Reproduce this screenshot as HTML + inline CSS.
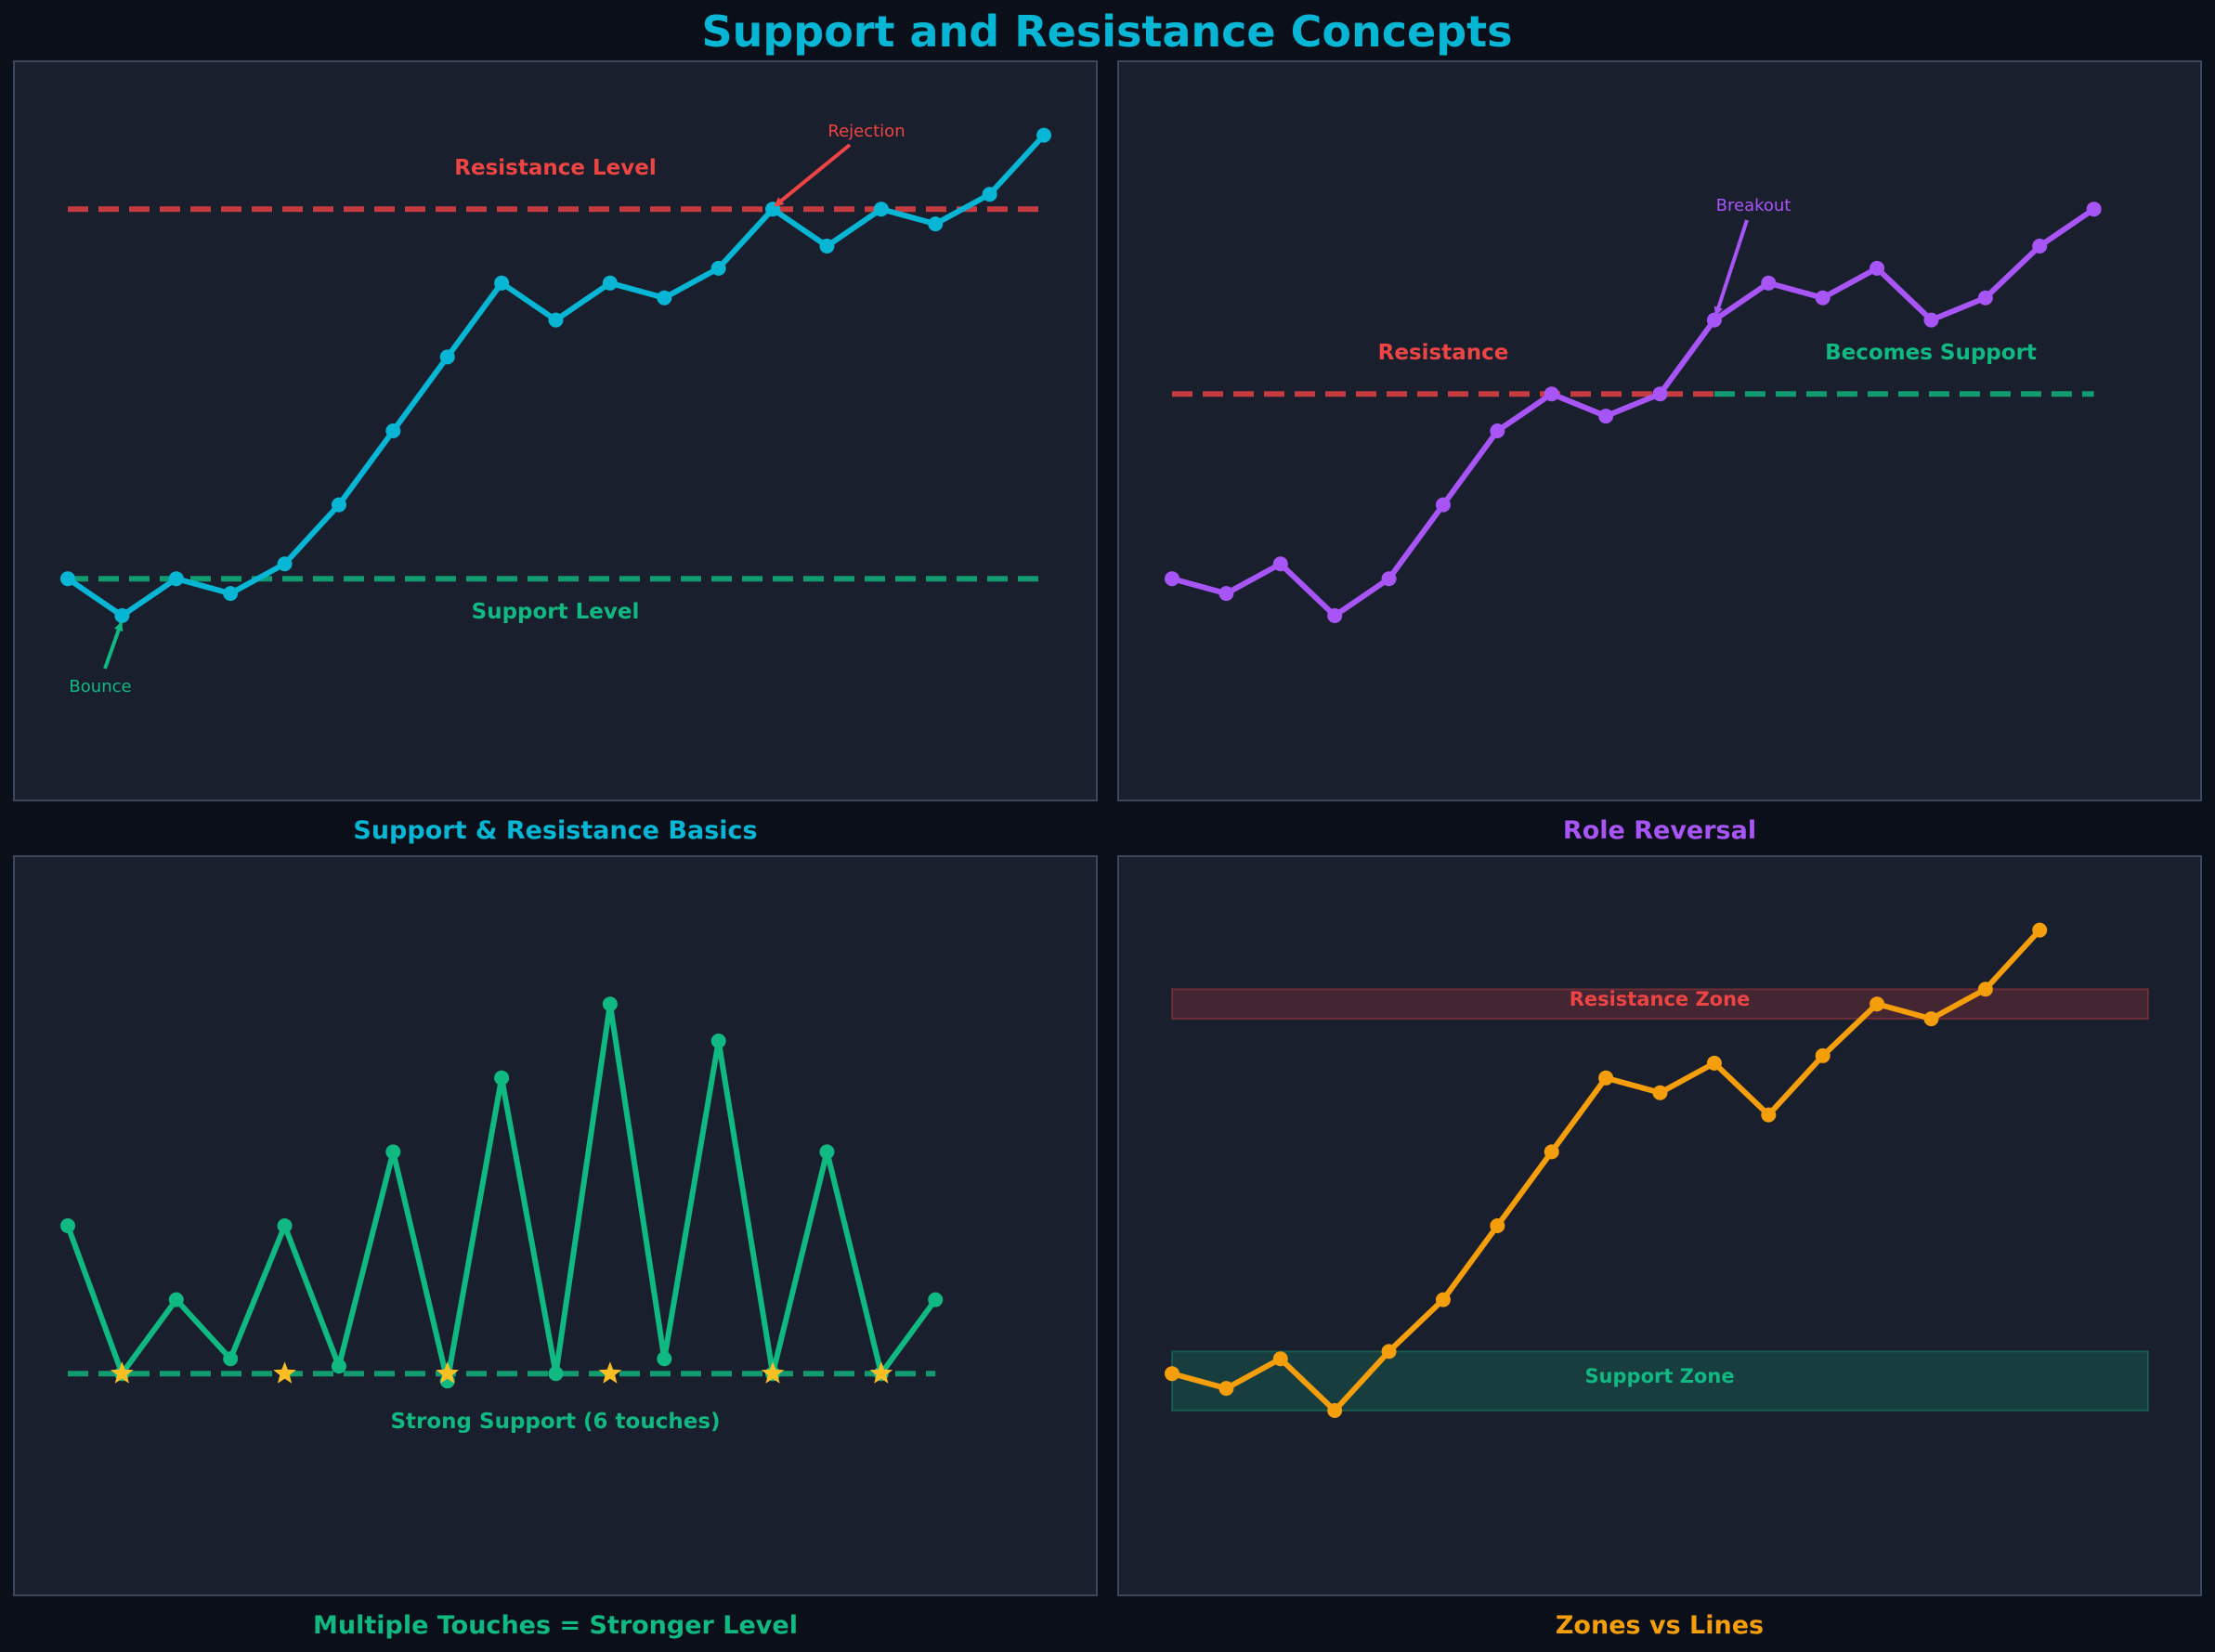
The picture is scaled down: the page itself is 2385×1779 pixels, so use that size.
<!DOCTYPE html>
<html><head><meta charset="utf-8"><style>
html,body{margin:0;padding:0;background:#0b0f19;}
svg{display:block;font-family:"DejaVu Sans","Liberation Sans",sans-serif;}
</style></head><body>
<svg id="chart" width="2385" height="1779" viewBox="0 0 2385 1779" xmlns="http://www.w3.org/2000/svg">
<defs>
<marker id="arR" markerWidth="10" markerHeight="10" refX="8" refY="5" orient="auto" markerUnits="userSpaceOnUse"><path d="M0,0 L10,5 L0,10 z" fill="#ef4444"/></marker>
<marker id="arG" markerWidth="10" markerHeight="10" refX="8" refY="5" orient="auto" markerUnits="userSpaceOnUse"><path d="M0,0 L10,5 L0,10 z" fill="#10b981"/></marker>
<marker id="arP" markerWidth="10" markerHeight="10" refX="8" refY="5" orient="auto" markerUnits="userSpaceOnUse"><path d="M0,0 L10,5 L0,10 z" fill="#a855f7"/></marker>
</defs>
<rect x="0" y="0" width="2385" height="1779" fill="#0b0f19"/>
<text x="1192" y="50" text-anchor="middle" font-size="46" font-weight="bold" fill="#06b6d4">Support and Resistance Concepts</text>
<g id="g"></g>
</svg>
<script>
// Panel 1 data
const p1Values = [100,99,100,99.6,100.4,102,104,106,108,107,108,107.6,108.4,110,109,110,109.6,110.4,112];
const p1Support = 100;
const p1Resistance = 110;
// Panel 2 data
const p2Values = [100,99.6,100.4,99,100,102,104,105,104.4,105,107,108,107.6,108.4,107,107.6,109,110];
const p2Level = 105;
const p2BreakoutIndex = 10;
// Panel 3 data
const p3Values = [104,100,102,100.4,104,100.2,106,99.8,108,100,110,100.4,109,100,106,100,102];
const p3Support = 100;
const p3Touches = [1,4,7,10,13,15];
// Panel 4 data
const p4Values = [100,99.6,100.4,99,100.6,102,104,106,108,107.6,108.4,107,108.6,110,109.6,110.4,112];
const p4SupportZone = [99,100.6];
const p4ResistanceZone = [109.6,110.4];

const NS="http://www.w3.org/2000/svg";
const G=document.getElementById('g');
function el(tag,attrs,parent){const e=document.createElementNS(NS,tag);for(const k in attrs)e.setAttribute(k,attrs[k]);(parent||G).appendChild(e);return e;}
const panels=[{x:15,y:66},{x:1204,y:66},{x:15,y:922},{x:1204,y:922}];
const W=1166,H=796,YMIN=94,YMAX=114,STEP=58.39;
function xs(p,i){return panels[p].x+58+STEP*i;}
function ys(p,v){return panels[p].y+(YMAX-v)/(YMAX-YMIN)*H;}
const titles=[["Support & Resistance Basics","#06b6d4","panel-title-basics"],["Role Reversal","#a855f7","panel-title-role-reversal"],["Multiple Touches = Stronger Level","#10b981","panel-title-multiple-touches"],["Zones vs Lines","#f59e0b","panel-title-zones-vs-lines"]];
panels.forEach((p,k)=>{
  const r=el('rect',{x:p.x,y:p.y,width:W,height:H,fill:'#1a1f2d',stroke:'#3b475c','stroke-width':2});
  
  
  const t=el('text',{x:p.x+W/2,y:p.y+H+41,'text-anchor':'middle','font-size':27,'font-weight':'bold',fill:titles[k][1]});
  t.textContent=titles[k][0];
  
  
});
function hline(p,i0,i1,v,color,name){const l=el('line',{x1:xs(p,i0),x2:xs(p,i1),y1:ys(p,v),y2:ys(p,v),stroke:color,'stroke-width':6,'stroke-dasharray':'22 11','stroke-opacity':0.8});
  
  }
function series(p,vals,color,name){
  const pts=vals.map((v,i)=>xs(p,i)+','+ys(p,v)).join(' ');
  const pl=el('polyline',{points:pts,fill:'none',stroke:color,'stroke-width':6,'stroke-linejoin':'round'});
  
  
  vals.forEach((v,i)=>{const c=el('circle',{cx:xs(p,i),cy:ys(p,v),r:8,fill:color});
    
    });
}
function text(x,y,s,color,size,bold,name){const t=el('text',{x:x,y:y,'text-anchor':'middle','font-size':size,'font-weight':bold?'bold':'normal',fill:color});t.textContent=s;
  
  }
function arrow(x1,y1,x2,y2,color,m,name){const a=el('line',{x1:x1,y1:y1,x2:x2,y2:y2,stroke:color,'stroke-width':4,'marker-end':'url(#'+m+')'});
  
  }

// Panel 1
hline(0,0,p1Values.length-1,p1Resistance,'#ef4444','resistance-line');
hline(0,0,p1Values.length-1,p1Support,'#10b981','support-line');
series(0,p1Values,'#06b6d4','price-basics');
text(598,188,'Resistance Level','#ef4444',23,true,'resistance-label');
text(598,666,'Support Level','#10b981',23,true,'support-label');
text(933,147,'Rejection','#ef4444',18,false,'rejection-label');
arrow(915,156,xs(0,13)+3,ys(0,p1Resistance)-4,'#ef4444','arR','rejection-arrow');
text(108,745,'Bounce','#10b981',18,false,'bounce-label');
arrow(113,720,xs(0,1)-1,ys(0,p1Values[1])+8,'#10b981','arG','bounce-arrow');

// Panel 2
hline(1,0,p2BreakoutIndex,p2Level,'#ef4444','old-resistance-line');
hline(1,p2BreakoutIndex,p2Values.length-1,p2Level,'#10b981','new-support-line');
series(1,p2Values,'#a855f7','price-role-reversal');
text(1554,387,'Resistance','#ef4444',23,true,'resistance-label-2');
text(2079,387,'Becomes Support','#10b981',23,true,'becomes-support-label');
text(1888,227,'Breakout','#a855f7',18,false,'breakout-label');
arrow(1881,237,xs(1,p2BreakoutIndex)+2,ys(1,p2Values[p2BreakoutIndex])-6,'#a855f7','arP','breakout-arrow');

// Panel 3
hline(2,0,p3Values.length-1,p3Support,'#10b981','strong-support-line');
series(2,p3Values,'#10b981','price-touches');
p3Touches.forEach(i=>{
  const cx=xs(2,i),cy=ys(2,p3Support),R=13,r=5.5;let d='';
  for(let k=0;k<10;k++){const a=-Math.PI/2+k*Math.PI/5,rr=k%2?r:R;d+=(k?'L':'M')+(cx+rr*Math.cos(a)).toFixed(1)+','+(cy+rr*Math.sin(a)).toFixed(1);}
  const s=el('path',{d:d+'Z',fill:'#fbbf24'});
  
  
});
text(598,1538,'Strong Support (6 touches)','#10b981',23,true,'strong-support-label');

// Panel 4
function zone(z,color,name){const r=el('rect',{x:1262,y:ys(3,z[1]),width:1051,height:ys(3,z[0])-ys(3,z[1]),fill:color,'fill-opacity':0.2,stroke:color,'stroke-opacity':0.3,'stroke-width':2});
  
  }
zone(p4ResistanceZone,'#ef4444','resistance-zone');
zone(p4SupportZone,'#10b981','support-zone');
series(3,p4Values,'#f59e0b','price-zones');
text(1787,1083,'Resistance Zone','#ef4444',21,true,'resistance-zone-label');
text(1787,1489,'Support Zone','#10b981',21,true,'support-zone-label');
</script>
</body></html>
